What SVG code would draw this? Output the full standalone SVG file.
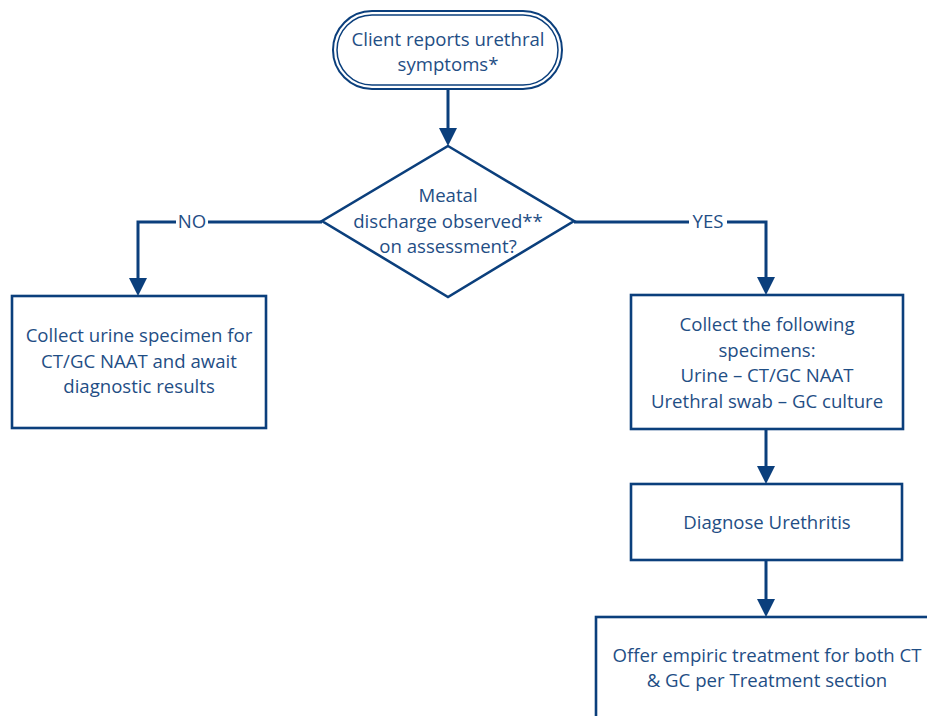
<svg xmlns="http://www.w3.org/2000/svg" width="927" height="716" viewBox="0 0 927 716">
<style>
.box{fill:#fff;stroke:#0B3F7C;stroke-width:2.6}
.conn{fill:none;stroke:#0B3F7C;stroke-width:3}
.t{font-family:"Open Sans","Noto Sans",sans-serif;font-size:18.6px;fill:#1F4E85;text-anchor:middle}
</style>
<defs>
<marker id="ah" markerUnits="userSpaceOnUse" viewBox="0 0 18 18" markerWidth="18" markerHeight="18" refX="8" refY="9" orient="auto">
<path d="M0,0 L18,9 L0,18 z" fill="#0B3F7C"/>
</marker>
</defs>
<rect width="927" height="716" fill="#fff"/>
<g id="connectors">
<path class="conn" d="M448,89 V136" marker-end="url(#ah)"/>
<path class="conn" d="M322,222 H138 V286" marker-end="url(#ah)"/>
<path class="conn" d="M574,222 H766 V285" marker-end="url(#ah)"/>
<path class="conn" d="M766,429 V474" marker-end="url(#ah)"/>
<path class="conn" d="M766,560 V607" marker-end="url(#ah)"/>
<rect x="176" y="212" width="32" height="20" fill="#fff"/>
<text class="t" x="192" y="228">NO</text>
<rect x="689" y="212" width="38" height="20" fill="#fff"/>
<text class="t" x="708" y="228">YES</text>
</g>
<g id="start">
<rect x="333" y="11" width="229" height="78" rx="39" fill="#fff" stroke="#0B3F7C" stroke-width="2"/>
<rect x="337" y="15" width="221" height="70" rx="35" fill="none" stroke="#0B3F7C" stroke-width="1.5"/>
<text class="t" x="448" y="46">Client reports urethral</text>
<text class="t" x="448" y="71">symptoms*</text>
</g>
<g id="decision">
<polygon class="box" points="448,146 574,221 448,297 322,221"/>
<text class="t" x="448" y="202">Meatal</text>
<text class="t" x="448" y="228">discharge observed**</text>
<text class="t" x="448" y="253">on assessment?</text>
</g>
<g id="collect-urine">
<rect class="box" x="12" y="296" width="254" height="132"/>
<text class="t" x="139" y="342">Collect urine specimen for</text>
<text class="t" x="139" y="368">CT/GC NAAT and await</text>
<text class="t" x="139" y="393">diagnostic results</text>
</g>
<g id="collect-specimens">
<rect class="box" x="631" y="295" width="272" height="134"/>
<text class="t" x="767" y="331">Collect the following</text>
<text class="t" x="767" y="357">specimens:</text>
<text class="t" x="767" y="382">Urine – CT/GC NAAT</text>
<text class="t" x="767" y="408">Urethral swab – GC culture</text>
</g>
<g id="diagnose">
<rect class="box" x="631" y="484" width="271" height="76"/>
<text class="t" x="767" y="529">Diagnose Urethritis</text>
</g>
<g id="treatment">
<rect class="box" x="596" y="617" width="350" height="120"/>
<text class="t" x="767" y="662">Offer empiric treatment for both CT</text>
<text class="t" x="767" y="687">&amp; GC per Treatment section</text>
</g>
</svg>
